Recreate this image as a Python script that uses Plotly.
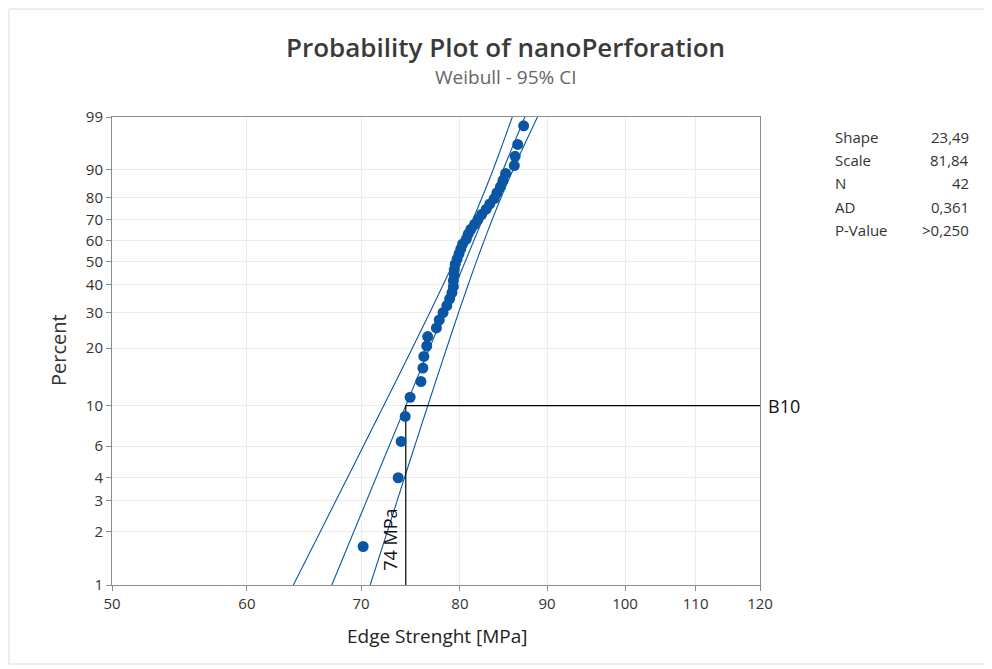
import numpy as np
import plotly.graph_objects as go

# ---- data ----
strength = [70.2, 73.6, 73.9, 74.3, 74.8, 75.9, 76.1, 76.2, 76.5, 76.6,
            77.5, 77.8, 78.2, 78.6, 78.9, 79.15, 79.3, 79.3, 79.4, 79.4,
            79.5, 79.7, 79.9, 80.1, 80.3, 80.7, 80.9, 81.2, 81.6, 82.0,
            82.4, 82.9, 83.3, 83.8, 84.1, 84.5, 84.8, 85.1, 86.1, 86.2,
            86.5, 87.2]
percent = [1.65, 4.01, 6.37, 8.73, 11.08, 13.44, 15.80, 18.16, 20.52, 22.88,
           25.24, 27.59, 29.95, 32.31, 34.67, 37.03, 39.39, 41.75, 44.10, 46.46,
           48.82, 51.18, 53.54, 55.90, 58.25, 60.61, 62.97, 65.33, 67.69, 70.05,
           72.41, 74.76, 77.12, 79.48, 81.84, 84.20, 86.56, 88.92, 91.27, 93.63,
           95.99, 98.35]

fit_percent = [1, 99]
fit_strength = [67.29, 87.34]

ci_percent = [1, 2, 3, 5, 10, 15, 20, 30, 40, 50, 63.2, 70, 80, 90, 95, 99]
ci_lower = [63.88, 66.25, 67.68, 69.54, 72.18, 73.81, 75.02, 76.82, 78.20, 79.36,
            80.74, 81.42, 82.44, 83.66, 84.51, 85.87]
ci_upper = [70.87, 72.53, 73.51, 74.79, 76.61, 77.74, 78.58, 79.86, 80.89, 81.80,
            82.96, 83.58, 84.59, 85.95, 87.01, 88.84]

b10_value = 74.36
b10_percent = 10

y_ticks = [1, 2, 3, 4, 6, 10, 20, 30, 40, 50, 60, 70, 80, 90, 99]
x_ticks = [50, 60, 70, 80, 90, 100, 110, 120]

stat_labels = ["Shape", "Scale", "N", "AD", "P-Value"]
stat_values = ["23,49", "81,84", "42", "0,361", ">0,250"]


def wy(p):
    p = np.asarray(p, dtype=float) / 100.0
    return np.log(-np.log(1.0 - p))


BLUE = "#0a56a4"
FONT = "Open Sans, Noto Sans, sans-serif"

# page body adds an 8px offset; plot area wanted at x 112..760, y 117..585 on screen
OFF = 8
PL, PR, PT, PB = 112 - OFF, 760 - OFF, 117 - OFF, 585 - OFF
W, H = 992 - OFF, 669 - OFF
PW, PH = PR - PL, PB - PT


def px(xs):  # screen x -> paper
    return (xs - OFF - PL) / PW


def py(ys):  # screen y -> paper
    return (PB - (ys - OFF)) / PH


fig = go.Figure()

for xs in (ci_lower, ci_upper):
    fig.add_trace(go.Scatter(x=xs, y=wy(ci_percent), mode="lines",
                             line=dict(color=BLUE, width=1.1, shape="spline"),
                             hoverinfo="skip", showlegend=False))
fig.add_trace(go.Scatter(x=fit_strength, y=wy(fit_percent), mode="lines",
                         line=dict(color=BLUE, width=1.1),
                         hoverinfo="skip", showlegend=False))

# B10 reference lines
fig.add_trace(go.Scatter(x=[b10_value, 120], y=wy([b10_percent, b10_percent]),
                         mode="lines", line=dict(color="black", width=1.2),
                         showlegend=False, hoverinfo="skip"))
fig.add_trace(go.Scatter(x=[b10_value, b10_value], y=wy([1, b10_percent]),
                         mode="lines", line=dict(color="black", width=1.2),
                         showlegend=False, hoverinfo="skip"))

fig.add_trace(go.Scatter(x=strength, y=wy(percent), mode="markers",
                         marker=dict(color=BLUE, size=11, symbol="circle"),
                         showlegend=False))

ylo, yhi = float(wy(1)), float(wy(99))

fig.update_layout(
    width=W, height=H,
    margin=dict(l=PL, r=W - PR, t=PT, b=H - PB),
    paper_bgcolor="white", plot_bgcolor="white",
    font=dict(family=FONT, color="#333333"),
    xaxis=dict(type="log", range=[np.log10(50), np.log10(120)],
               tickvals=x_ticks, ticktext=[str(v) for v in x_ticks],
               showgrid=True, gridcolor="#ececec", gridwidth=1,
               showline=True, linecolor="#8c8c8c", linewidth=1, mirror=True,
               ticks="outside", ticklen=5, tickcolor="#8c8c8c",
               tickfont=dict(size=15, color="#333333"), zeroline=False),
    yaxis=dict(range=[ylo, yhi],
               tickvals=list(wy(y_ticks)), ticktext=[str(v) for v in y_ticks],
               showgrid=True, gridcolor="#ececec", gridwidth=1,
               showline=True, linecolor="#8c8c8c", linewidth=1, mirror=True,
               ticks="outside", ticklen=5, tickcolor="#8c8c8c",
               tickfont=dict(size=15, color="#333333"), zeroline=False),
)

ann = []
ann.append(dict(text="Probability Plot of nanoPerforation", xref="paper", yref="paper",
                x=px(505), y=py(47), showarrow=False,
                font=dict(size=26, color="#3a3a3a", family=FONT, weight=600),
                xanchor="center", yanchor="middle"))
ann.append(dict(text="Weibull - 95% CI", xref="paper", yref="paper",
                x=px(506), y=py(77), showarrow=False,
                font=dict(size=19, color="#666666", family=FONT),
                xanchor="center", yanchor="middle"))
ann.append(dict(text="Percent", xref="paper", yref="paper",
                x=px(58), y=py(350), showarrow=False,
                textangle=-90, font=dict(size=20, color="#333333", family=FONT),
                xanchor="center", yanchor="middle"))
ann.append(dict(text="Edge Strenght [MPa]", xref="paper", yref="paper",
                x=px(437), y=py(636), showarrow=False,
                font=dict(size=19, color="#222222", family=FONT),
                xanchor="center", yanchor="middle"))
ann.append(dict(text="B10", xref="paper", yref="y",
                x=px(766), y=float(wy(b10_percent)), showarrow=False,
                font=dict(size=18, color="#111111", family=FONT),
                xanchor="left", yanchor="middle"))
ann.append(dict(text="74 MPa", xref="x", yref="paper",
                x=np.log10(b10_value), xshift=-16, y=py(540), showarrow=False,
                textangle=-90, font=dict(size=18, color="#111111", family=FONT),
                xanchor="center", yanchor="middle"))

rows_y = [137, 160, 183, 207, 230]
for lab, val, ry in zip(stat_labels, stat_values, rows_y):
    ann.append(dict(text=lab, xref="paper", yref="paper",
                    x=px(833), y=py(ry), showarrow=False,
                    font=dict(size=15, color="#333333", family=FONT),
                    xanchor="left", yanchor="middle"))
    ann.append(dict(text=val, xref="paper", yref="paper",
                    x=px(971), y=py(ry), showarrow=False,
                    font=dict(size=15, color="#333333", family=FONT),
                    xanchor="right", yanchor="middle"))

fig.update_layout(annotations=ann)

# faint outer frame of the picture
fig.add_shape(type="rect", xref="paper", yref="paper",
              x0=px(9), x1=px(990), y0=py(664), y1=py(9),
              line=dict(color="#dcdcdc", width=1), layer="below")

fig.write_html("out.html")
